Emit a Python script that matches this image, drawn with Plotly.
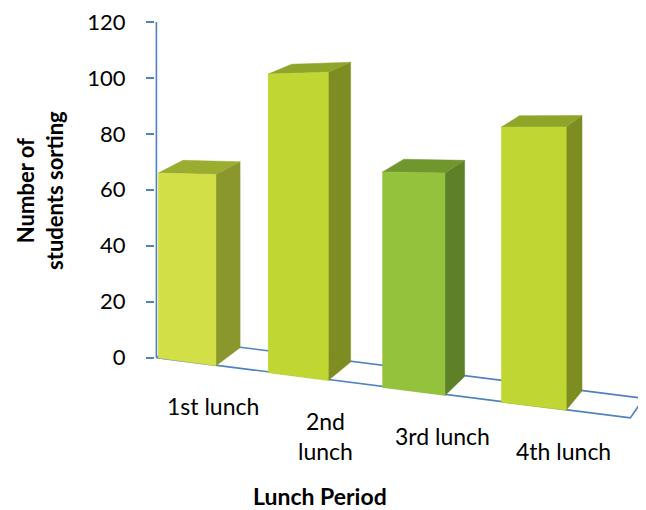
import plotly.graph_objects as go

# ---- data ----
categories = ["1st lunch", "2nd<br>lunch", "3rd lunch", "4th lunch"]
values = [66, 100, 68, 82]
y_ticks = [0, 20, 40, 60, 80, 100, 120]
x_title = "Lunch Period"
y_title = "Number of<br>students sorting"

# ---- styles ----
front_colors = ["#D3DF46", "#C0D632", "#94C23C", "#C0D632"]
side_colors = ["#8A972C", "#7E8D22", "#5E8028", "#7E8D22"]
top_colors = ["#9AAD31", "#8EA529", "#6F972E", "#8EA529"]
axis_blue = "#4F81BD"
FONT = "Lato"

# ---- pseudo-3D projection parameters ----
PXU = 117.0      # px per category slot
PYU = 2.825      # px per value unit
UA = -0.282      # slot position of the value axis
TILT = 0.128 * PXU / PYU
GROW = 0.0016 * PXU / PYU
WARP = 0.019
HALF = 0.265
U_END = 3.78
Y_MIN, Y_MAX = -68 / PYU, 347 / PYU


def front(u, v):
    x = u + WARP * (u - UA) * (u - U_END)
    return x, -TILT * (u - UA) + v * (1 + GROW * (u - UA))


def back(pt, u):
    x, y = pt
    dxp = 24.5 - 1.0 * u - 0.5 * u * u
    dyp = 18.07 - 0.0795 * y
    return x + dxp / PXU, y + dyp / PYU


def to_paper_y(y):
    return (y - Y_MIN) / (Y_MAX - Y_MIN)


def poly(pts, color, name):
    xs = [p[0] for p in pts] + [pts[0][0]]
    ys = [p[1] for p in pts] + [pts[0][1]]
    return go.Scatter(x=xs, y=ys, mode="lines", fill="toself", fillcolor=color,
                      line=dict(width=0.5, color=color), hoverinfo="skip", name=name)


fig = go.Figure()

# floor
fl = front(UA, 0)
fr = front(U_END, 0)
br = back(fr, U_END)
bl = back(fl, UA)
fig.add_trace(go.Scatter(x=[fl[0], fr[0], br[0], bl[0], fl[0]],
                         y=[fl[1], fr[1], br[1], bl[1], fl[1]],
                         mode="lines", line=dict(color=axis_blue, width=1.6),
                         hoverinfo="skip"))

# value axis line
fig.add_trace(go.Scatter(x=[UA, UA], y=[y_ticks[0], y_ticks[-1]], mode="lines",
                         line=dict(color=axis_blue, width=1.6), hoverinfo="skip"))

# bars
for i, (cat, v) in enumerate(zip(categories, values)):
    u0, u1 = i - HALF, i + HALF
    FBL, FBR = front(u0, 0), front(u1, 0)
    FTL, FTR = front(u0, v), front(u1, v)
    BBR, BTR, BTL = back(FBR, u1), back(FTR, u1), back(FTL, u0)
    fig.add_trace(poly([FBR, BBR, BTR, FTR], side_colors[i], cat))
    fig.add_trace(poly([FTL, FTR, BTR, BTL], top_colors[i], cat))
    fig.add_trace(poly([FBL, FBR, FTR, FTL], front_colors[i], cat))
    lx, fy = front(i + 0.24, 0)
    ly = fy - 25 / PYU
    fig.add_annotation(x=lx, y=to_paper_y(ly), xref="x", yref="paper", text=cat,
                       showarrow=False, xanchor="center", yanchor="top",
                       font=dict(family=FONT, size=23, color="black"))

fig.add_annotation(x=-0.233, y=0.571, xref="paper", yref="paper",
                   text="<b>" + y_title.replace("<br>", "</b><br><b>") + "</b>",
                   textangle=-90, showarrow=False, xanchor="center", yanchor="middle",
                   font=dict(family=FONT, size=22, color="black"))
fig.add_annotation(x=0.336, y=-0.1735, xref="paper", yref="paper", text="<b>" + x_title + "</b>",
                   showarrow=False, xanchor="center", yanchor="middle",
                   font=dict(family=FONT, size=23, color="black"))

fig.update_layout(
    width=638, height=502,
    margin=dict(l=147, r=0, t=2, b=85),
    paper_bgcolor="white", plot_bgcolor="white",
    showlegend=False,
    xaxis=dict(visible=False, range=[UA - 0.012, UA + 491 / PXU], fixedrange=True),
    yaxis=dict(range=[Y_MIN, Y_MAX], tickvals=y_ticks, ticks="outside",
               ticklen=8, tickwidth=1.6, tickcolor=axis_blue, showgrid=False,
               zeroline=False, showline=False, ticklabelstandoff=16,
               ticklabeloverflow="allow",
               tickfont=dict(family=FONT, size=22, color="black"), fixedrange=True),
)

fig.write_html("out.html")
